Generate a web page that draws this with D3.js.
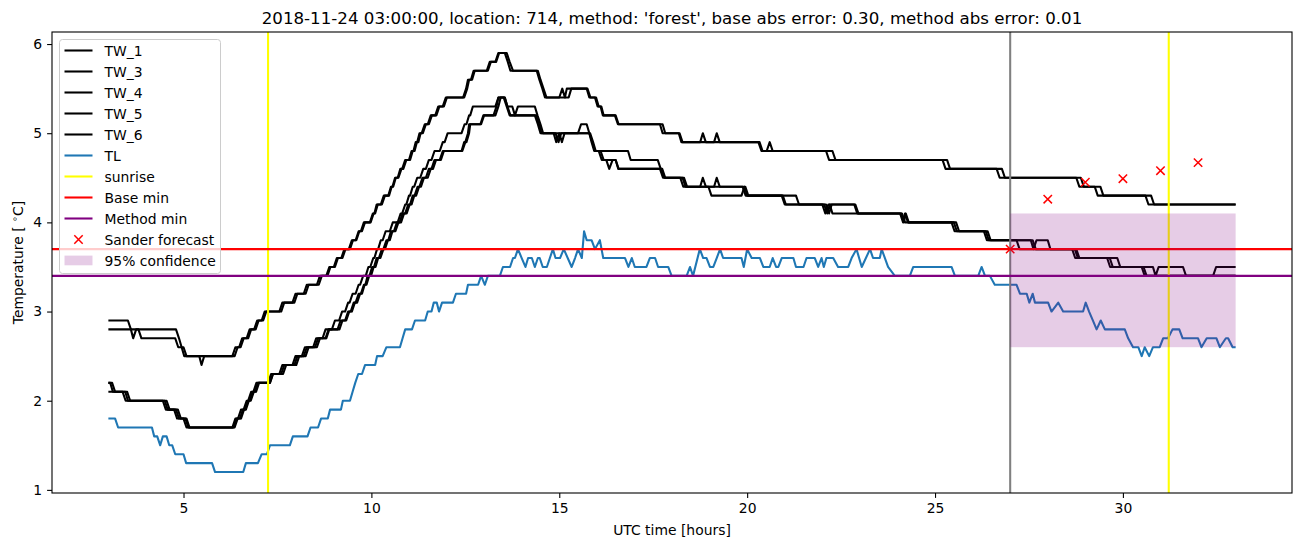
<!DOCTYPE html>
<html>
<head>
<meta charset="utf-8">
<script src="https://cdn.jsdelivr.net/npm/d3@7"></script>
<style>
  html, body { margin: 0; padding: 0; background: #fff; }
  svg { display: block; font-family: "DejaVu Sans", sans-serif; }
</style>
</head>
<body>
<svg id="chart" width="1302" height="547"></svg>
<script>
// ---------------- data (hours UTC, temperature °C) ----------------
const titleText = "2018-11-24 03:00:00, location: 714, method: 'forest', base abs error: 0.30, method abs error: 0.01";
const xTicks = [5, 10, 15, 20, 25, 30];
const yTicks = [1, 2, 3, 4, 5, 6];
const seriesNames = ["TW_1", "TW_3", "TW_4", "TW_5", "TW_6"];

const tw1 = [[3.0,2.9],[3.52,2.9],[3.6,2.8],[3.8,2.8],[3.88,2.7],[4.78,2.7],[4.86,2.6],[4.95,2.6],[5.02,2.5],[6.3,2.5],[6.38,2.6],[6.48,2.6],[6.56,2.7],[6.68,2.7],[6.76,2.8],[6.88,2.8],[6.96,2.9],[7.08,2.9],[7.16,3.0],[7.55,3.0],[7.63,3.1],[7.9,3.1],[7.98,3.2],[8.2,3.2],[8.28,3.3],[8.55,3.3],[8.63,3.4],[8.8,3.4],[8.88,3.5],[9.0,3.5],[9.08,3.6],[9.2,3.6],[9.28,3.7],[9.4,3.7],[9.48,3.8],[9.58,3.8],[9.66,3.9],[9.72,3.9],[9.8,4.0],[9.96,4.0],[10.04,4.1],[10.08,4.1],[10.14,4.2],[10.25,4.2],[10.33,4.3],[10.45,4.3],[10.52,4.4],[10.56,4.4],[10.63,4.5],[10.7,4.5],[10.77,4.6],[10.82,4.6],[10.9,4.7],[11.0,4.7],[11.07,4.8],[11.12,4.8],[11.18,4.9],[11.22,4.9],[11.28,5.0],[11.34,5.0],[11.42,5.1],[11.5,5.1],[11.58,5.2],[11.7,5.2],[11.78,5.3],[11.9,5.3],[11.98,5.4],[12.44,5.4],[12.52,5.5],[12.57,5.6],[12.65,5.6],[12.72,5.7],[13.07,5.7],[13.15,5.8],[13.3,5.8],[13.38,5.9],[13.55,5.9],[13.63,5.8],[13.7,5.7],[14.4,5.7],[14.47,5.6],[14.55,5.5],[14.62,5.4],[15.0,5.4],[15.08,5.5],[15.15,5.4],[15.2,5.5],[15.73,5.5],[15.8,5.4],[15.95,5.4],[16.02,5.3],[16.1,5.3],[16.16,5.2],[16.48,5.2],[16.56,5.1],[17.68,5.1],[17.75,5.0],[18.18,5.0],[18.25,4.9],[18.75,4.9],[18.82,5.0],[18.9,4.9],[19.12,4.9],[19.19,5.0],[19.27,4.9],[20.3,4.9],[20.38,4.8],[20.52,4.8],[20.6,4.9],[20.68,4.8],[22.1,4.8],[22.18,4.7],[25.2,4.7],[25.28,4.6],[26.64,4.6],[26.72,4.5],[28.76,4.5],[28.84,4.4],[29.25,4.4],[29.33,4.3],[30.6,4.3],[30.68,4.2],[33.0,4.2]];

const tw3 = [[3.0,2.8],[3.6,2.8],[3.66,2.7],[3.74,2.8],[4.8,2.8],[4.88,2.7],[4.95,2.6],[5.0,2.6],[5.08,2.5],[5.42,2.5],[5.48,2.4],[5.55,2.5],[6.36,2.5],[6.44,2.6],[6.52,2.6],[6.6,2.7],[6.72,2.7],[6.8,2.8],[6.92,2.8],[7.0,2.9],[7.12,2.9],[7.2,3.0],[7.6,3.0],[7.68,3.1],[7.95,3.1],[8.03,3.2],[8.25,3.2],[8.33,3.3],[8.6,3.3],[8.68,3.4],[8.83,3.4],[8.91,3.5],[9.03,3.5],[9.11,3.6],[9.23,3.6],[9.31,3.7],[9.43,3.7],[9.51,3.8],[9.6,3.8],[9.68,3.9],[9.75,3.9],[9.83,4.0],[9.98,4.0],[10.06,4.1],[10.1,4.1],[10.17,4.2],[10.28,4.2],[10.36,4.3],[10.47,4.3],[10.54,4.4],[10.58,4.4],[10.65,4.5],[10.72,4.5],[10.8,4.6],[10.85,4.6],[10.93,4.7],[11.03,4.7],[11.1,4.8],[11.15,4.8],[11.21,4.9],[11.25,4.9],[11.31,5.0],[11.37,5.0],[11.45,5.1],[11.53,5.1],[11.61,5.2],[11.73,5.2],[11.81,5.3],[11.93,5.3],[12.01,5.4],[12.47,5.4],[12.55,5.5],[12.6,5.6],[12.68,5.6],[12.75,5.7],[13.1,5.7],[13.18,5.8],[13.32,5.8],[13.4,5.9],[13.6,5.9],[13.68,5.8],[13.77,5.7],[14.43,5.7],[14.5,5.6],[14.58,5.5],[14.66,5.4],[15.25,5.4],[15.32,5.5],[15.75,5.5],[15.83,5.4],[15.98,5.4],[16.05,5.3],[16.12,5.3],[16.18,5.2],[16.5,5.2],[16.58,5.1],[17.75,5.1],[17.82,5.0],[18.2,5.0],[18.28,4.9],[20.33,4.9],[20.41,4.8],[22.27,4.8],[22.35,4.7],[25.32,4.7],[25.4,4.6],[26.78,4.6],[26.86,4.5],[28.88,4.5],[28.96,4.4],[29.4,4.4],[29.48,4.3],[30.75,4.3],[30.83,4.2],[33.0,4.2]];

const tw4 = [[3.0,2.2],[3.05,2.2],[3.12,2.1],[3.45,2.1],[3.52,2.0],[4.45,2.0],[4.53,1.9],[4.75,1.9],[4.83,1.8],[5.0,1.8],[5.08,1.7],[6.3,1.7],[6.38,1.8],[6.45,1.8],[6.53,1.9],[6.6,1.9],[6.68,2.0],[6.72,2.0],[6.8,2.1],[6.86,2.1],[6.94,2.2],[7.25,2.2],[7.33,2.3],[7.55,2.3],[7.63,2.4],[7.9,2.4],[7.98,2.5],[8.15,2.5],[8.23,2.6],[8.45,2.6],[8.53,2.7],[8.7,2.7],[8.78,2.8],[8.95,2.8],[9.03,2.9],[9.14,2.9],[9.22,3.0],[9.3,3.0],[9.38,3.1],[9.42,3.1],[9.5,3.2],[9.58,3.2],[9.66,3.3],[9.7,3.3],[9.78,3.4],[9.85,3.4],[9.92,3.5],[9.97,3.5],[10.05,3.6],[10.08,3.6],[10.15,3.7],[10.18,3.7],[10.25,3.8],[10.3,3.8],[10.38,3.9],[10.49,3.9],[10.57,4.0],[10.7,4.0],[10.78,4.1],[10.82,4.1],[10.9,4.2],[10.93,4.2],[11.0,4.3],[11.03,4.3],[11.1,4.4],[11.14,4.4],[11.22,4.5],[11.3,4.5],[11.38,4.6],[11.45,4.6],[11.53,4.7],[11.6,4.7],[11.68,4.8],[11.82,4.8],[11.9,4.9],[11.95,4.9],[12.03,5.0],[12.4,5.0],[12.48,5.1],[12.53,5.1],[12.6,5.2],[12.63,5.2],[12.7,5.3],[13.3,5.3],[13.38,5.4],[13.55,5.4],[13.62,5.3],[13.75,5.3],[13.82,5.2],[13.9,5.3],[14.35,5.3],[14.42,5.2],[14.5,5.1],[14.57,5.0],[14.85,5.0],[14.92,4.9],[15.0,5.0],[15.5,5.0],[15.58,5.1],[15.73,5.1],[15.8,5.0],[15.86,4.9],[15.93,4.8],[16.83,4.8],[16.9,4.7],[17.62,4.7],[17.7,4.6],[17.74,4.6],[17.82,4.5],[18.22,4.5],[18.3,4.4],[18.75,4.4],[18.82,4.5],[18.9,4.4],[19.12,4.4],[19.19,4.5],[19.27,4.4],[19.88,4.4],[19.96,4.3],[20.92,4.3],[21.0,4.2],[22.0,4.2],[22.08,4.1],[22.16,4.2],[22.85,4.2],[22.93,4.1],[24.07,4.1],[24.15,4.0],[24.2,4.1],[24.28,4.0],[25.44,4.0],[25.52,3.9],[26.3,3.9],[26.38,3.8],[27.17,3.8],[27.25,3.7],[28.65,3.7],[28.73,3.6],[29.58,3.6],[29.66,3.5],[30.5,3.5],[30.58,3.4],[33.0,3.4]];

const tw5 = [[3.0,2.2],[3.1,2.2],[3.18,2.1],[3.5,2.1],[3.58,2.0],[4.5,2.0],[4.58,1.9],[4.8,1.9],[4.88,1.8],[5.05,1.8],[5.13,1.7],[6.33,1.7],[6.41,1.8],[6.5,1.8],[6.58,1.9],[6.63,1.9],[6.71,2.0],[6.76,2.0],[6.84,2.1],[6.9,2.1],[6.98,2.2],[7.3,2.2],[7.38,2.3],[7.6,2.3],[7.68,2.4],[7.95,2.4],[8.03,2.5],[8.2,2.5],[8.28,2.6],[8.5,2.6],[8.58,2.7],[8.78,2.7],[8.86,2.8],[9.1,2.8],[9.18,2.9],[9.3,2.9],[9.38,3.0],[9.45,3.0],[9.53,3.1],[9.58,3.1],[9.66,3.2],[9.72,3.2],[9.8,3.3],[9.84,3.3],[9.9,3.4],[9.95,3.4],[10.02,3.5],[10.07,3.5],[10.14,3.6],[10.2,3.6],[10.28,3.7],[10.32,3.7],[10.4,3.8],[10.45,3.8],[10.52,3.9],[10.6,3.9],[10.68,4.0],[10.75,4.0],[10.83,4.1],[10.9,4.1],[10.98,4.2],[11.03,4.2],[11.1,4.3],[11.15,4.3],[11.23,4.4],[11.28,4.4],[11.36,4.5],[11.45,4.5],[11.53,4.6],[11.6,4.6],[11.68,4.7],[11.82,4.7],[11.9,4.8],[12.4,4.8],[12.47,4.9],[12.5,4.9],[12.57,5.0],[12.6,5.1],[12.9,5.1],[12.98,5.2],[13.25,5.2],[13.33,5.3],[13.38,5.4],[13.52,5.4],[13.6,5.3],[13.68,5.2],[14.35,5.2],[14.43,5.1],[14.5,5.0],[14.9,5.0],[14.98,4.9],[15.05,5.0],[15.8,5.0],[15.88,4.9],[15.95,4.8],[16.05,4.8],[16.13,4.7],[16.25,4.7],[16.33,4.6],[16.42,4.7],[16.5,4.7],[16.57,4.6],[17.68,4.6],[17.76,4.5],[18.28,4.5],[18.36,4.4],[18.97,4.4],[19.05,4.3],[19.85,4.3],[19.93,4.4],[20.0,4.3],[20.95,4.3],[21.03,4.2],[22.05,4.2],[22.13,4.1],[22.2,4.2],[22.27,4.1],[24.1,4.1],[24.17,4.0],[24.22,4.1],[24.3,4.0],[25.5,4.0],[25.58,3.9],[26.35,3.9],[26.43,3.8],[27.55,3.8],[27.62,3.7],[27.7,3.8],[28.0,3.8],[28.07,3.7],[28.72,3.7],[28.8,3.6],[29.65,3.6],[29.73,3.5],[30.8,3.5],[30.87,3.4],[30.95,3.5],[31.6,3.5],[31.68,3.4],[32.4,3.4],[32.48,3.5],[33.0,3.5]];

const tw6 = [[3.0,2.1],[3.38,2.1],[3.46,2.0],[4.55,2.0],[4.63,1.9],[4.85,1.9],[4.93,1.8],[5.08,1.8],[5.16,1.7],[6.36,1.7],[6.44,1.8],[6.53,1.8],[6.61,1.9],[6.66,1.9],[6.74,2.0],[6.79,2.0],[6.87,2.1],[6.93,2.1],[7.01,2.2],[7.3,2.2],[7.38,2.3],[7.65,2.3],[7.73,2.4],[8.0,2.4],[8.08,2.5],[8.25,2.5],[8.33,2.6],[8.55,2.6],[8.63,2.7],[8.8,2.7],[8.88,2.8],[9.15,2.8],[9.23,2.9],[9.33,2.9],[9.41,3.0],[9.48,3.0],[9.56,3.1],[9.62,3.1],[9.7,3.2],[9.75,3.2],[9.82,3.3],[9.87,3.3],[9.94,3.4],[9.99,3.4],[10.06,3.5],[10.11,3.5],[10.18,3.6],[10.24,3.6],[10.32,3.7],[10.36,3.7],[10.44,3.8],[10.49,3.8],[10.56,3.9],[10.64,3.9],[10.72,4.0],[10.79,4.0],[10.87,4.1],[10.94,4.1],[11.02,4.2],[11.07,4.2],[11.14,4.3],[11.19,4.3],[11.27,4.4],[11.32,4.4],[11.4,4.5],[11.5,4.5],[11.58,4.6],[11.64,4.6],[11.72,4.7],[11.85,4.7],[11.93,4.8],[12.42,4.8],[12.5,4.9],[12.53,4.9],[12.6,5.0],[12.63,5.1],[12.92,5.1],[13.0,5.2],[13.3,5.2],[13.38,5.3],[13.44,5.4],[13.55,5.4],[13.62,5.3],[13.7,5.2],[14.38,5.2],[14.46,5.1],[14.53,5.0],[15.0,5.0],[15.07,4.9],[15.14,5.0],[15.82,5.0],[15.9,4.9],[15.97,4.8],[16.1,4.8],[16.18,4.7],[16.5,4.7],[16.58,4.6],[17.72,4.6],[17.8,4.5],[18.32,4.5],[18.4,4.4],[19.95,4.4],[20.03,4.3],[21.3,4.3],[21.38,4.2],[22.1,4.2],[22.18,4.1],[22.25,4.2],[22.88,4.2],[22.96,4.1],[24.12,4.1],[24.2,4.0],[25.56,4.0],[25.64,3.9],[26.4,3.9],[26.48,3.8],[27.6,3.8],[27.68,3.7],[28.76,3.7],[28.84,3.6],[29.85,3.6],[29.93,3.5],[30.55,3.5],[30.63,3.4],[33.0,3.4]];

const tl = [[3.0,1.8],[3.18,1.8],[3.26,1.7],[4.16,1.7],[4.22,1.6],[4.3,1.6],[4.38,1.5],[4.45,1.6],[4.55,1.6],[4.62,1.5],[4.7,1.5],[4.78,1.4],[5.0,1.4],[5.07,1.3],[5.76,1.3],[5.84,1.2],[6.59,1.2],[6.66,1.3],[6.98,1.3],[7.08,1.4],[7.22,1.4],[7.3,1.5],[7.83,1.5],[7.91,1.6],[8.3,1.6],[8.38,1.7],[8.58,1.7],[8.66,1.8],[8.84,1.8],[8.9,1.9],[9.19,1.9],[9.24,2.0],[9.43,2.0],[9.5,2.1],[9.57,2.2],[9.65,2.3],[9.75,2.3],[9.83,2.4],[10.1,2.4],[10.15,2.5],[10.3,2.5],[10.4,2.6],[10.76,2.6],[10.83,2.7],[10.9,2.8],[11.08,2.8],[11.16,2.9],[11.43,2.9],[11.5,3.0],[11.6,3.0],[11.66,3.1],[11.74,3.1],[11.8,3.0],[11.88,3.1],[12.17,3.1],[12.25,3.2],[12.52,3.2],[12.57,3.3],[12.84,3.3],[12.92,3.4],[13.02,3.3],[13.1,3.4],[13.42,3.4],[13.5,3.5],[13.69,3.5],[13.77,3.6],[13.82,3.6],[13.9,3.7],[14.0,3.6],[14.1,3.5],[14.17,3.6],[14.27,3.6],[14.35,3.5],[14.43,3.6],[14.48,3.6],[14.56,3.5],[14.67,3.5],[14.75,3.6],[14.83,3.7],[14.9,3.6],[15.02,3.6],[15.12,3.7],[15.33,3.5],[15.42,3.6],[15.5,3.7],[15.6,3.6],[15.66,3.9],[15.73,3.8],[15.86,3.8],[15.95,3.7],[16.08,3.8],[16.17,3.6],[16.75,3.6],[16.84,3.5],[16.93,3.6],[17.01,3.5],[17.32,3.5],[17.41,3.6],[17.55,3.6],[17.63,3.5],[17.9,3.5],[17.99,3.4],[18.39,3.4],[18.48,3.5],[18.56,3.4],[18.74,3.7],[18.83,3.6],[18.92,3.6],[19.01,3.5],[19.1,3.5],[19.19,3.6],[19.28,3.7],[19.36,3.6],[19.85,3.6],[19.91,3.5],[20.0,3.7],[20.12,3.6],[20.34,3.6],[20.43,3.5],[20.6,3.5],[20.68,3.6],[20.77,3.5],[20.83,3.5],[20.92,3.6],[21.23,3.6],[21.3,3.5],[21.5,3.5],[21.58,3.6],[21.8,3.6],[21.89,3.5],[21.98,3.6],[22.04,3.5],[22.11,3.6],[22.29,3.6],[22.42,3.5],[22.69,3.5],[22.78,3.6],[22.91,3.7],[23.05,3.5],[23.27,3.7],[23.35,3.6],[23.53,3.6],[23.58,3.7],[23.75,3.5],[23.93,3.4],[24.33,3.4],[24.42,3.5],[25.44,3.5],[25.53,3.4],[26.15,3.4],[26.24,3.5],[26.33,3.4],[26.46,3.4],[26.59,3.3],[27.17,3.3],[27.26,3.2],[27.44,3.2],[27.51,3.1],[27.6,3.2],[27.66,3.1],[28.01,3.1],[28.1,3.0],[28.28,3.1],[28.41,3.0],[28.94,3.0],[29.01,3.1],[29.1,3.0],[29.2,2.9],[29.3,2.8],[29.41,2.9],[29.52,2.8],[30.05,2.8],[30.14,2.7],[30.27,2.6],[30.41,2.6],[30.5,2.5],[30.58,2.6],[30.7,2.5],[30.8,2.6],[30.98,2.6],[31.07,2.7],[31.2,2.7],[31.32,2.8],[31.5,2.8],[31.59,2.7],[32.0,2.7],[32.09,2.6],[32.23,2.7],[32.49,2.7],[32.58,2.6],[32.74,2.7],[32.8,2.7],[32.92,2.6],[33.0,2.6]];

const sunriseHours = [7.25, 31.22];
const forecastStart = 27;
const baseMin = 3.7;
const methodMin = 3.4;
const sanderHours = [27, 28, 29, 30, 31, 32];
const sanderTemps = [3.7, 4.26, 4.45, 4.49, 4.58, 4.67];
const confHours = [27, 33];
const confLow = 2.6;
const confHigh = 4.1;

// ---------------- layout ----------------
const svg = d3.select("#chart");
const L = 52, R = 1292, T = 32, B = 493;
const fs = 13.9;

const allT = [].concat(tw1, tw3, tw4, tw5, tw6, tl);
const tExt = d3.extent(allT, d => d[0]);
const vExt = d3.extent(allT, d => d[1]);
const tPad = (tExt[1] - tExt[0]) * 0.05, vPad = (vExt[1] - vExt[0]) * 0.05;
const x = d3.scaleLinear().domain([tExt[0] - tPad, tExt[1] + tPad]).range([L, R]);
const y = d3.scaleLinear().domain([vExt[0] - vPad, vExt[1] + vPad]).range([B, T]);

svg.append("defs").append("clipPath").attr("id", "clip")
  .append("rect").attr("x", L).attr("y", T).attr("width", R - L).attr("height", B - T);

const plot = svg.append("g").attr("clip-path", "url(#clip)");
const line = d3.line().x(d => x(d[0])).y(d => y(d[1]));

const twSeries = [tw1, tw3, tw4, tw5, tw6];
twSeries.forEach(s => {
  plot.append("path").attr("d", line(s)).attr("fill", "none")
    .attr("stroke", "#000").attr("stroke-width", 2.08).attr("stroke-linejoin", "round");
});
plot.append("path").attr("d", line(tl)).attr("fill", "none")
  .attr("stroke", "#1f77b4").attr("stroke-width", 2.08).attr("stroke-linejoin", "round");

// sunrise vertical lines
plot.selectAll(".sunrise").data(sunriseHours).join("line")
  .attr("x1", d => x(d)).attr("x2", d => x(d)).attr("y1", T).attr("y2", B)
  .attr("stroke", "#ffff00").attr("stroke-width", 2.08);
// forecast start
plot.append("line").attr("x1", x(forecastStart)).attr("x2", x(forecastStart))
  .attr("y1", T).attr("y2", B).attr("stroke", "#808080").attr("stroke-width", 2.08);
// base / method min
plot.append("line").attr("x1", L).attr("x2", R).attr("y1", y(baseMin)).attr("y2", y(baseMin))
  .attr("stroke", "#ff0000").attr("stroke-width", 2.08);
plot.append("line").attr("x1", L).attr("x2", R).attr("y1", y(methodMin)).attr("y2", y(methodMin))
  .attr("stroke", "#800080").attr("stroke-width", 2.08);
// Sander forecast markers
const ms = 4.2;
sanderHours.forEach((h, i) => {
  const cx = x(h), cy = y(sanderTemps[i]);
  plot.append("path").attr("d", `M${cx-ms},${cy-ms}L${cx+ms},${cy+ms}M${cx-ms},${cy+ms}L${cx+ms},${cy-ms}`)
    .attr("stroke", "#ff0000").attr("stroke-width", 1.5).attr("fill", "none");
});
// 95% confidence
plot.append("rect").attr("x", x(confHours[0])).attr("y", y(confHigh))
  .attr("width", x(confHours[1]) - x(confHours[0])).attr("height", y(confLow) - y(confHigh))
  .attr("fill", "#800080").attr("fill-opacity", 0.2);

// ---------------- axes ----------------
const xAxis = svg.append("g").attr("transform", `translate(0,${B})`)
  .call(d3.axisBottom(x).tickValues(xTicks).tickSize(4.9).tickPadding(4.9).tickFormat(d3.format("d")));
const yAxis = svg.append("g").attr("transform", `translate(${L},0)`)
  .call(d3.axisLeft(y).tickValues(yTicks).tickSize(4.9).tickPadding(4.9).tickFormat(d3.format("d")));
[xAxis, yAxis].forEach(g => {
  g.select(".domain").remove();
  g.selectAll("line").attr("stroke", "#000").attr("stroke-width", 1.1);
  g.selectAll("text").attr("font-family", "DejaVu Sans").attr("font-size", fs).attr("fill", "#000");
});
svg.append("rect").attr("x", L).attr("y", T).attr("width", R - L).attr("height", B - T)
  .attr("fill", "none").attr("stroke", "#000").attr("stroke-width", 1.1);

svg.append("text").attr("x", (L + R) / 2).attr("y", 24).attr("text-anchor", "middle")
  .attr("font-size", 16.67).text(titleText);
svg.append("text").attr("x", (L + R) / 2).attr("y", 535).attr("text-anchor", "middle")
  .attr("font-size", fs).text("UTC time [hours]");
const yl = svg.append("text").attr("transform", `translate(23,${(T + B) / 2}) rotate(-90)`)
  .attr("text-anchor", "middle").attr("font-size", fs);
yl.append("tspan").text("Temperature [ ");
yl.append("tspan").attr("dy", -5).attr("font-size", 9.7).text("∘");
yl.append("tspan").attr("dy", 5).text("C]");

// ---------------- legend ----------------
const legendItems = seriesNames.map(n => ({label: n, type: "line", color: "#000"}))
  .concat([
    {label: "TL", type: "line", color: "#1f77b4"},
    {label: "sunrise", type: "line", color: "#ffff00"},
    {label: "Base min", type: "line", color: "#ff0000"},
    {label: "Method min", type: "line", color: "#800080"},
    {label: "Sander forecast", type: "x", color: "#ff0000"},
    {label: "95% confidence", type: "patch", color: "#800080"}
  ]);
const lg = svg.append("g");
lg.append("rect").attr("x", 59.5).attr("y", 39.5).attr("width", 161).attr("height", 234)
  .attr("rx", 3).attr("fill", "#fff").attr("fill-opacity", 0.8).attr("stroke", "#cccccc").attr("stroke-width", 1);
legendItems.forEach((it, i) => {
  const cy = 50.5 + i * 21;
  if (it.type === "line") {
    lg.append("line").attr("x1", 64.5).attr("x2", 92.5).attr("y1", cy).attr("y2", cy)
      .attr("stroke", it.color).attr("stroke-width", 2.08);
  } else if (it.type === "x") {
    const cx = 78.5;
    lg.append("path").attr("d", `M${cx-ms},${cy-ms}L${cx+ms},${cy+ms}M${cx-ms},${cy+ms}L${cx+ms},${cy-ms}`)
      .attr("stroke", it.color).attr("stroke-width", 1.5);
  } else {
    lg.append("rect").attr("x", 64.5).attr("y", cy - 4.9).attr("width", 28).attr("height", 9.7)
      .attr("fill", it.color).attr("fill-opacity", 0.2);
  }
  lg.append("text").attr("x", 104.5).attr("y", cy + 5).attr("font-size", fs).text(it.label);
});
</script>
</body>
</html>
